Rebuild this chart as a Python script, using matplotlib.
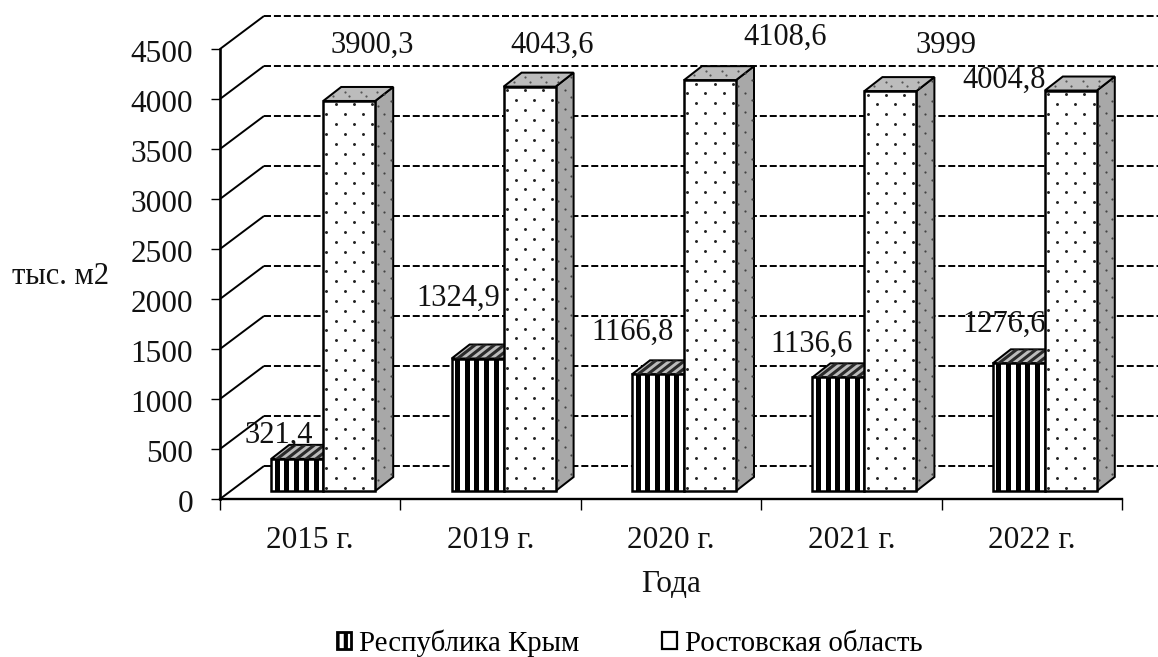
import numpy as np
import matplotlib
matplotlib.use("Agg")
import matplotlib.pyplot as plt
from matplotlib.patches import Polygon, Patch
from matplotlib.transforms import ScaledTranslation

plt.rcParams['font.family'] = ['Liberation Serif', 'DejaVu Serif']

years = ['2015 г.', '2019 г.', '2020 г.', '2021 г.', '2022 г.']
crimea = [321.4, 1324.9, 1166.8, 1136.6, 1276.6]
rostov = [3900.3, 4043.6, 4108.6, 3999.0, 4004.8]
crimea_labels = ['321,4', '1324,9', '1166,8', '1136,6', '1276,6']
rostov_labels = ['3900,3', '4043,6', '4108,6', '3999', '4004,8']
y_ticks = list(range(0, 5000, 500))
series_names = ['Республика Крым', 'Ростовская область']

# label offsets from the bar's top front centre, in pixels
crimea_off = [(-18, 24), (-19, 60.5), (-25.5, 42), (-27, 33), (-15, 39)]
rostov_off = [(23, 56), (23, 41), (75, 43), (56, 46), (-67, 10)]

W, H = 1158, 657
AX_L, AX_R, AX_B, AX_T = 220, 1122, 499, 49
px_x = (AX_R - AX_L) / len(years)      # pixels per category
px_y = (AX_B - AX_T) / 4500            # pixels per unit

plt.rcParams['hatch.linewidth'] = 3.0
fig = plt.figure(figsize=(W / 100, H / 100), dpi=100, facecolor='white')
ax = fig.add_axes([AX_L / W, 1 - AX_B / H, (AX_R - AX_L) / W, (AX_B - AX_T) / H])
ax.set_xlim(0, len(years))
ax.set_ylim(0, 4500)
ax.patch.set_alpha(0)


def ux(p):
    return p / px_x


def uy(p):
    return p / px_y


WALL_DX, WALL_DY = ux(44), uy(33)
FRONT_DX, FRONT_DY = ux(13), uy(8)
BAR_W = ux(52)
SIDE_DX, SIDE_DY = ux(18), uy(14)
FS = 22.5
FS_DATA = 22
FS_LEG = 20.8
EDGE = 1.8

# walls: diagonal and dashed back lines
for t in y_ticks:
    ax.plot([0, WALL_DX], [t, t + WALL_DY], color='black', lw=1.4, clip_on=False, zorder=1,
            solid_capstyle='butt')
    ax.plot([WALL_DX, len(years) + ux(W - AX_R)], [t + WALL_DY, t + WALL_DY], color='black', lw=1.4,
            ls=(0, (3.6, 1.5)), clip_on=False, zorder=1)


def dots(x0, y0, x1, y1, shear_x=0.0, shear_y=0.0, size=4.5, zorder=5, color='#222222'):
    """Staggered dot texture over a rectangle or parallelogram."""
    xs, ys = [], []
    nx = int(round((x1 - x0) / ux(10)))
    ny = int(round((y1 - y0) / uy(10)))
    for j in range(ny + 1):
        for k in range(nx + 1):
            if (j + k) % 2:
                continue
            fx = (k + 0.35) / (nx + 0.7)
            fy = (j + 0.35) / (ny + 0.7)
            xs.append(x0 + (x1 - x0) * fx + shear_x * fy)
            ys.append(y0 + (y1 - y0) * fy + shear_y * fx)
    ax.scatter(xs, ys, s=size, color=color, linewidths=0, zorder=zorder, clip_on=False)


def draw_box(x, v, striped, z):
    b = FRONT_DY
    top = b + v
    side = Polygon([(x + BAR_W, b), (x + BAR_W + SIDE_DX, b + SIDE_DY),
                    (x + BAR_W + SIDE_DX, top + SIDE_DY), (x + BAR_W, top)],
                   facecolor='#a8a8a8', edgecolor='black', lw=EDGE * 0.8, zorder=z, clip_on=False)
    roof = Polygon([(x, top), (x + SIDE_DX, top + SIDE_DY), (x + BAR_W + SIDE_DX, top + SIDE_DY),
                    (x + BAR_W, top)], facecolor='#bcbcbc', edgecolor='black', lw=EDGE * 0.8, zorder=z,
                   clip_on=False)
    ax.add_patch(side)
    ax.add_patch(roof)
    ax.bar(x, v, BAR_W, bottom=b, align='edge', color='white', edgecolor='black', lw=EDGE,
           zorder=z + 0.1, clip_on=False)
    if striped:
        pitch, sw = ux(9.7), ux(5)
        for s in np.arange(x + ux(3.5), x + BAR_W - ux(2), pitch):
            ax.bar(s, v, sw, bottom=b, align='edge', color='black', lw=0, zorder=z + 0.2, clip_on=False)
            ax.add_patch(Polygon([(s, top), (s + SIDE_DX, top + SIDE_DY),
                                  (s + SIDE_DX + sw, top + SIDE_DY), (s + sw, top)],
                                 facecolor='#2a2a2a', edgecolor='none', zorder=z + 0.2, clip_on=False))
    else:
        dots(x, b, x + BAR_W, top, zorder=z + 0.2)
        dots(x + BAR_W, b + SIDE_DY / 2, x + BAR_W + SIDE_DX, top + SIDE_DY / 2,
             shear_y=SIDE_DY / 2, size=2.5, zorder=z + 0.2, color='#444444')
        dots(x + ux(6), top + uy(3), x + BAR_W, top + SIDE_DY - uy(3), shear_x=ux(6), size=2.5,
             zorder=z + 0.2, color='#555555')


for i in range(len(years)):
    x_c = i + 0.5 + FRONT_DX - BAR_W
    x_r = i + 0.5 + FRONT_DX
    draw_box(x_c, crimea[i], True, 3)
    draw_box(x_r, rostov[i], False, 4)
    for xb, v, lab, (dx, dy) in ((x_c, crimea[i], crimea_labels[i], crimea_off[i]),
                                 (x_r, rostov[i], rostov_labels[i], rostov_off[i])):
        ax.annotate(lab, xy=(xb + BAR_W / 2, v + FRONT_DY), xytext=(dx * 0.72, dy * 0.72),
                    textcoords='offset points', ha='center', va='center', fontsize=FS_DATA,
                    color='#111111', zorder=10, annotation_clip=False)

# axes
for s in ('top', 'right'):
    ax.spines[s].set_visible(False)
ax.spines['left'].set_linewidth(1.9)
ax.spines['bottom'].set_linewidth(1.7)
ax.spines['left'].set_zorder(6)
ax.spines['bottom'].set_zorder(6)
ax.set_yticks(y_ticks)
ax.set_yticklabels([str(t) for t in y_ticks], fontsize=FS, color='#111111')
ax.set_xticks(range(len(years) + 1))
ax.set_xticklabels([''] * (len(years) + 1))
ax.tick_params(axis='y', length=6.5, width=1.0, pad=13)
ax.tick_params(axis='x', length=8, width=1.0)
shift = ScaledTranslation(0, -1.5 / 100, fig.dpi_scale_trans)
for t in ax.get_yticklabels():
    t.set_transform(t.get_transform() + shift)
for i, lab in enumerate(years):
    ax.annotate(lab, xy=(i + 0.5, 0), xytext=(0, -41 * 0.72), textcoords='offset points',
                ha='center', va='center', fontsize=FS, color='#111111', annotation_clip=False)

fig.text(671 / W, 1 - 585 / H, 'Года', ha='center', va='center', fontsize=FS, color='#111111')
fig.text(61 / W, 1 - 277 / H, 'тыс. м2', ha='center', va='center', fontsize=FS_DATA, color='#111111')

handles = [Patch(facecolor='white', edgecolor='black', hatch='||', lw=2),
           Patch(facecolor='white', edgecolor='black', lw=1.6)]
fig.legend(handles, series_names, loc='center', bbox_to_anchor=(629.5 / W, 1 - 643 / H), ncol=2,
           frameon=False, fontsize=FS_LEG, handlelength=0.5, handleheight=0.5, handletextpad=0.28,
           columnspacing=2.87, borderpad=0)

fig.savefig('out.png', dpi=100)
